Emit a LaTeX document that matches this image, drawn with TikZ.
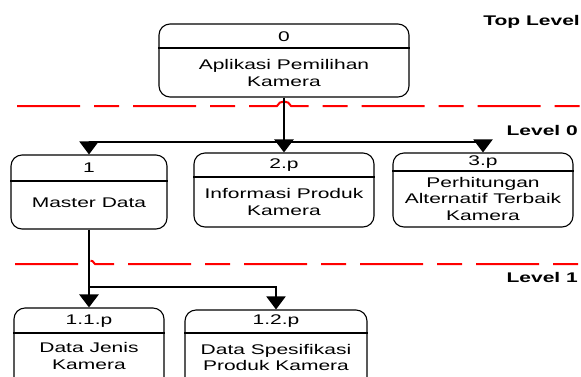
\documentclass[tikz,border=0pt]{standalone}
\usepackage{fontspec}
\usepackage{graphicx}
\setmainfont{Liberation Sans}
\usetikzlibrary{arrows.meta}
\newcommand{\sx}[1]{\scalebox{1.5}[1]{#1}}
\tikzset{
  procbox/.style={draw=black, line width=1.1pt, rounded corners=11pt, inner sep=0pt},
  divider/.style={draw=black, line width=1.1pt},
  numtxt/.style={inner sep=0pt, font=\fontsize{14}{17}\selectfont},
  lbltxt/.style={inner sep=0pt, align=center, font=\fontsize{14}{17}\selectfont},
  lvl/.style={inner sep=0pt, anchor=east, font=\fontsize{14}{17}\selectfont\bfseries},
  flowmain/.style={draw=black, line width=2.6pt, -{Triangle[width=19pt,length=13pt]}},
  flow/.style={draw=black, line width=2pt, -{Triangle[width=19pt,length=13pt]}},
  redline/.style={draw=red, line width=2pt, dash pattern=on 63pt off 14pt on 25pt off 14pt}
}
\begin{document}
\begin{tikzpicture}[x=1pt,y=-1pt]
\useasboundingbox (0,0) rectangle (581,376);
\clip (0,0) rectangle (581,376);
\fill[white] (0,0) rectangle (581,376);

% Top level box
\node[procbox, minimum width=250pt, minimum height=73pt] (p0) at (284,60.5) {};
\draw[divider] (p0.west |- 0,48) -- (p0.east |- 0,48);
\node[numtxt] (n0) at (284,37) {\sx{0}};
\node[lbltxt] (t0) at (284,73) {\sx{Aplikasi Pemilihan}\\\sx{Kamera}};

% Level 0 boxes
\node[procbox, minimum width=156pt, minimum height=74pt] (p1) at (89,192) {};
\draw[divider] (p1.west |- 0,181) -- (p1.east |- 0,181);
\node[numtxt] (n1) at (89,168) {\sx{1}};
\node[lbltxt] (t1) at (89,203) {\sx{Master Data}};

\node[procbox, minimum width=180pt, minimum height=74pt] (p2) at (284,190) {};
\draw[divider] (p2.west |- 0,177) -- (p2.east |- 0,177);
\node[numtxt] (n2) at (284,165) {\sx{2.p}};
\node[lbltxt] (t2) at (284,201.5) {\sx{Informasi Produk}\\\sx{Kamera}};

\node[procbox, minimum width=180pt, minimum height=74pt] (p3) at (483,190) {};
\draw[divider] (p3.west |- 0,171) -- (p3.east |- 0,171);
\node[numtxt] (n3) at (483,162) {\sx{3.p}};
\node[lbltxt, font=\fontsize{14}{16.5}\selectfont] (t3) at (483,198.5) {\sx{Perhitungan}\\\sx{Alternatif Terbaik}\\\sx{Kamera}};

% Level 1 boxes
\node[procbox, minimum width=150pt, minimum height=80pt] (p11) at (89,348) {};
\draw[divider] (p11.west |- 0,333) -- (p11.east |- 0,333);
\node[numtxt] (n11) at (89,321) {\sx{1.1.p}};
\node[lbltxt, font=\fontsize{14}{16.5}\selectfont] (t11) at (89,356) {\sx{Data Jenis}\\\sx{Kamera}};

\node[procbox, minimum width=182pt, minimum height=78pt] (p12) at (276,349) {};
\draw[divider] (p12.west |- 0,333) -- (p12.east |- 0,333);
\node[numtxt] (n12) at (276,321) {\sx{1.2.p}};
\node[lbltxt, font=\fontsize{14}{16.5}\selectfont] (t12) at (276,357.5) {\sx{Data Spesifikasi}\\\sx{Produk Kamera}};

% Level separators (red dashed with hop over connectors)
\draw[redline] (17,106) -- (277,106) .. controls (279,100) and (289,100) .. (291,106) -- (581,106);
\draw[redline] (15,264) -- (83,264) .. controls (85,259) and (93,259) .. (95,264) -- (581,264);

% Connectors
\coordinate (j0) at (284,142);
\coordinate (j1) at (89,287);
\draw[flowmain] (p0.south) -- (p2.north);
\draw[flow] (j0) -| (p1.north);
\draw[flow] (j0) -| (p3.north);
\draw[flowmain] (p1.south) -- (p11.north);
\draw[flow] (j1) -| (p12.north);

% Level labels
\node[lvl] (l0) at (580,22) {\sx{Top Level}};
\node[lvl] (l1) at (578,130) {\sx{Level 0}};
\node[lvl] (l2) at (578,277) {\sx{Level 1}};
\end{tikzpicture}
\end{document}
